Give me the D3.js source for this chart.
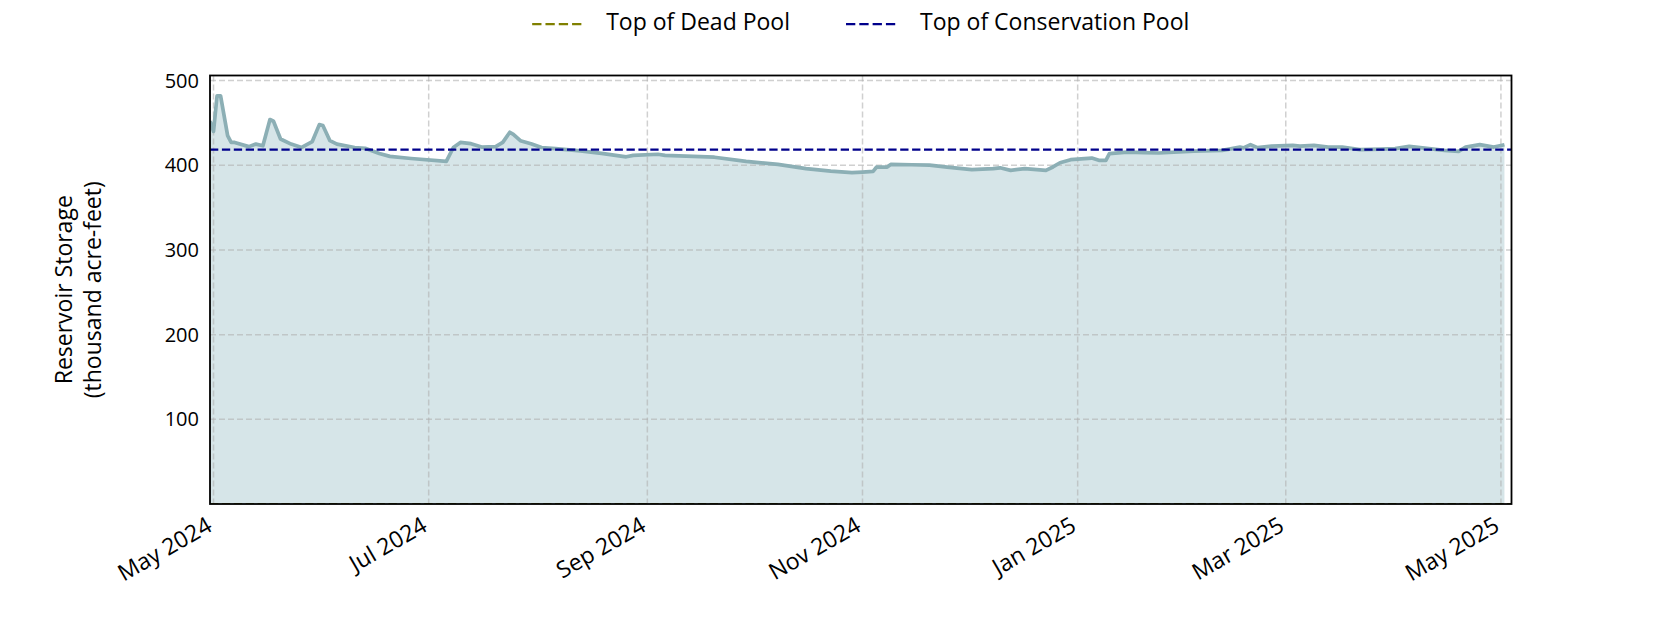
<!DOCTYPE html>
<html lang="en">
<head>
<meta charset="UTF-8">
<title>Reservoir Storage</title>
<script src="https://d3js.org/d3.v7.min.js"></script>
<style>
  body { margin: 0; background: #fff; }
  svg text { font-family: "Open Sans", Lato, sans-serif; fill: #000; }
</style>
</head>
<body>
<div id="chart"></div>
<script>
// storage (thousand acre-feet)
const dates = [
  "2024-04-30", "2024-05-01", "2024-05-02", "2024-05-03", "2024-05-05", "2024-05-06",
  "2024-05-07", "2024-05-11", "2024-05-13", "2024-05-15", "2024-05-17", "2024-05-18",
  "2024-05-20", "2024-05-23", "2024-05-26", "2024-05-29", "2024-05-31", "2024-06-01",
  "2024-06-03", "2024-06-05", "2024-06-10", "2024-06-13", "2024-06-17", "2024-06-20",
  "2024-06-26", "2024-07-06", "2024-07-08", "2024-07-10", "2024-07-13", "2024-07-16",
  "2024-07-20", "2024-07-22", "2024-07-24", "2024-07-25", "2024-07-27", "2024-07-30",
  "2024-08-02", "2024-08-06", "2024-08-13", "2024-08-19", "2024-08-26", "2024-08-28",
  "2024-09-04", "2024-09-06", "2024-09-10", "2024-09-20", "2024-09-29", "2024-10-08",
  "2024-10-16", "2024-10-23", "2024-10-29", "2024-11-01", "2024-11-04", "2024-11-05",
  "2024-11-08", "2024-11-09", "2024-11-15", "2024-11-20", "2024-11-25", "2024-12-02",
  "2024-12-08", "2024-12-10", "2024-12-13", "2024-12-17", "2024-12-23", "2024-12-25",
  "2024-12-27", "2024-12-30", "2025-01-02", "2025-01-05", "2025-01-07", "2025-01-09",
  "2025-01-10", "2025-01-15", "2025-01-20", "2025-01-24", "2025-02-03", "2025-02-11",
  "2025-02-16", "2025-02-17", "2025-02-19", "2025-02-21", "2025-02-25", "2025-03-03",
  "2025-03-05", "2025-03-09", "2025-03-13", "2025-03-17", "2025-03-22", "2025-03-28",
  "2025-04-01", "2025-04-05", "2025-04-10", "2025-04-15", "2025-04-19", "2025-04-21",
  "2025-04-25", "2025-04-29", "2025-05-02"
];
const storage = [
  452, 440, 482, 482, 435, 427,
  427, 422, 425, 423, 454, 452,
  431, 425, 421, 428, 448, 447,
  429, 425, 421, 420, 414, 410.5,
  408, 404.5, 421, 427, 425.5, 421.5,
  422, 427, 439, 436.5, 429, 425.5,
  421, 419.6, 417, 414, 410, 411.7,
  413, 411.7, 411, 409.5, 404.6, 401,
  396, 393, 391.3, 392, 392.8, 397.9,
  397.9, 401, 400.6, 400.2, 397.9, 394.8,
  396, 397, 394, 396, 394, 398,
  403, 406.6, 407.5, 408.5, 405.8, 405.8,
  413.7, 415.6, 415, 414.5, 416.8, 417.6,
  421.5, 420.5, 424.3, 420.8, 422.7, 423.5,
  422.7, 423.5, 421.5, 421.5, 418.4, 419,
  419.6, 422.3, 420, 417.6, 416.4, 421.5,
  424.3, 421.5, 424.3
];
const deadPoolTop = 0;
const conservationTop = 418.5;
const yTicks = [100, 200, 300, 400, 500];
const xRange = ["2024-04-30", "2025-05-04"];
const yMax = 506;
const legendLabels = ["Top of Dead Pool", "Top of Conservation Pool"];

const W = 1680, H = 630;
const margin = {top: 75.5, right: 168.5, bottom: 126, left: 210};
const iw = W - margin.left - margin.right;
const ih = H - margin.top - margin.bottom;

const parse = d3.utcParse("%Y-%m-%d");
const series = dates.map((d, i) => ({date: parse(d), v: storage[i]}));

const x = d3.scaleUtc().domain(xRange.map(parse)).range([0, iw]);
const y = d3.scaleLinear().domain([0, yMax]).range([ih, 0]);

const svg = d3.select("#chart").append("svg")
  .attr("width", W).attr("height", H);

svg.append("defs").append("clipPath").attr("id", "plot-clip")
  .append("rect").attr("width", iw).attr("height", ih);

const g = svg.append("g").attr("transform", `translate(${margin.left},${margin.top})`);
const plot = g.append("g").attr("clip-path", "url(#plot-clip)");

const lineColor = "#8cafb5";

// area under the storage curve
plot.append("path")
  .datum(series)
  .attr("fill", "#d6e5e8")
  .attr("d", d3.area().x(d => x(d.date)).y0(y(0)).y1(d => y(d.v)));

// grid
const xTicks = x.ticks(d3.utcMonth.every(2));
plot.selectAll(".vgrid").data(xTicks).enter().append("line")
  .attr("x1", d => x(d)).attr("x2", d => x(d))
  .attr("y1", 0).attr("y2", ih)
  .attr("stroke", "#b0b0b0").attr("stroke-opacity", 0.6)
  .attr("stroke-width", 1.5).attr("stroke-dasharray", "6,3");
plot.selectAll(".hgrid").data(yTicks).enter().append("line")
  .attr("x1", 0).attr("x2", iw)
  .attr("y1", d => y(d)).attr("y2", d => y(d))
  .attr("stroke", "#b0b0b0").attr("stroke-opacity", 0.6)
  .attr("stroke-width", 1.5).attr("stroke-dasharray", "6,3");

// storage line
plot.append("path")
  .datum(series)
  .attr("fill", "none")
  .attr("stroke", lineColor)
  .attr("stroke-width", 3.7)
  .attr("stroke-linejoin", "round")
  .attr("d", d3.line().x(d => x(d.date)).y(d => y(d.v)));

// pool levels
plot.append("line")
  .attr("x1", 0).attr("x2", iw)
  .attr("y1", y(deadPoolTop)).attr("y2", y(deadPoolTop))
  .attr("stroke", "#808000").attr("stroke-width", 2.25)
  .attr("stroke-dasharray", "8.3,3.6");
plot.append("line")
  .attr("x1", 0).attr("x2", iw)
  .attr("y1", y(conservationTop)).attr("y2", y(conservationTop))
  .attr("stroke", "#00008b").attr("stroke-width", 2.25)
  .attr("stroke-dasharray", "8.3,3.6");

// frame
g.append("rect")
  .attr("width", iw).attr("height", ih)
  .attr("fill", "none").attr("stroke", "#000").attr("stroke-width", 1.8);

// y tick labels
g.selectAll(".ytick").data(yTicks).enter().append("text")
  .attr("x", -11).attr("y", d => y(d))
  .attr("dy", "0.35em")
  .attr("text-anchor", "end")
  .style("font-size", "20px")
  .text(d => d);

// x tick labels, rotated
const fmt = d3.utcFormat("%b %Y");
g.selectAll(".xtick").data(xTicks).enter().append("text")
  .attr("transform", d => `translate(${x(d)},${ih + 26}) rotate(-30)`)
  .attr("text-anchor", "end")
  .style("font-size", "23px")
  .text(d => fmt(d));

// y axis label
const yl = svg.append("text")
  .attr("transform", `translate(0,${margin.top + ih / 2}) rotate(-90)`)
  .attr("text-anchor", "middle")
  .style("font-size", "23px");
yl.append("tspan").attr("x", 0).attr("y", 72).text("Reservoir Storage");
yl.append("tspan").attr("x", 0).attr("y", 101).text("(thousand acre-feet)");

// legend
const legendColors = ["#808000", "#00008b"];
const leg = svg.append("g");
let lx = 0;
legendLabels.forEach((label, i) => {
  const item = leg.append("g").attr("transform", `translate(${lx},0)`);
  item.append("line")
    .attr("x1", 0).attr("x2", 51).attr("y1", 24).attr("y2", 24)
    .attr("stroke", legendColors[i]).attr("stroke-width", 2.25)
    .attr("stroke-dasharray", "9.3,4");
  const t = item.append("text")
    .attr("x", 74).attr("y", 30)
    .style("font-size", "23px")
    .text(label);
  lx += 74 + t.node().getComputedTextLength() + 56;
});
const legW = lx - 56;
leg.attr("transform", `translate(${margin.left + iw / 2 - legW / 2},0)`);
</script>
</body>
</html>
